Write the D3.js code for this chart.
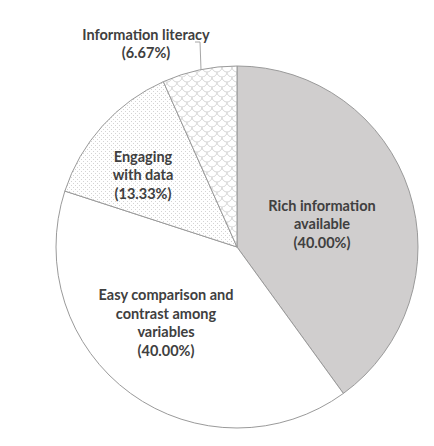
<!DOCTYPE html>
<html>
<head>
<meta charset="utf-8">
<script src="https://cdn.jsdelivr.net/npm/d3@7"></script>
<style>
  body { margin: 0; background: #fff; }
  text { font-family: Lato, "Open Sans", sans-serif; font-weight: bold; fill: #404040; }
</style>
</head>
<body>
<div id="chart"></div>
<script>
// valori della torta (in senso orario dalle ore 12)
const categories = ["Rich information available", "Easy comparison and contrast among variables", "Engaging with data", "Information literacy"];
const values = [40.00, 40.00, 13.33, 6.67];
const labelLines = [
  ["Rich information", "available", "(40.00%)"],
  ["Easy comparison and", "contrast among", "variables", "(40.00%)"],
  ["Engaging", "with data", "(13.33%)"],
  ["Information literacy", "(6.67%)"]
];

const width = 434, height = 446;
const cx = 237, cy = 247, radius = 181;

const svg = d3.select("#chart").append("svg")
  .attr("width", width).attr("height", height);

// pattern per le fette
const defs = svg.append("defs");

const dots = defs.append("pattern")
  .attr("id", "dots").attr("patternUnits", "userSpaceOnUse")
  .attr("width", 4).attr("height", 4);
dots.append("rect").attr("width", 4).attr("height", 4).attr("fill", "#fff");
dots.append("rect").attr("x", 0).attr("y", 0).attr("width", 1).attr("height", 1).attr("fill", "#d4d4d4");
dots.append("rect").attr("x", 2).attr("y", 2).attr("width", 1).attr("height", 1).attr("fill", "#d4d4d4");

const scales = defs.append("pattern")
  .attr("id", "scales").attr("patternUnits", "userSpaceOnUse")
  .attr("width", 10).attr("height", 10);
scales.append("rect").attr("width", 10).attr("height", 10).attr("fill", "#fff");
scales.append("path")
  .attr("d", "M0,5 A5,5 0 0 0 10,5 M-5,10 A5,5 0 0 0 5,10 M5,10 A5,5 0 0 0 15,10 M-5,0 A5,5 0 0 0 5,0 M5,0 A5,5 0 0 0 15,0")
  .attr("fill", "none").attr("stroke", "#d0d0d0").attr("stroke-width", 0.9);

const fills = ["#d0cece", "#ffffff", "url(#dots)", "url(#scales)"];

const pie = d3.pie().sort(null).value(d => d)(values);
const arc = d3.arc().innerRadius(0).outerRadius(radius);

const g = svg.append("g").attr("transform", `translate(${cx},${cy})`);

g.selectAll("path.slice")
  .data(pie).enter().append("path")
  .attr("class", "slice")
  .attr("d", arc)
  .attr("fill", (d, i) => fills[i])
  .attr("stroke", "#9a9a9a")
  .attr("stroke-width", 1);

// posizione delle etichette (centro del blocco di testo)
const labelPos = [[322, 224], [166, 323], [143, 175], [146, 44]];
const lineH = 18.5;

labelLines.forEach((lines, i) => {
  const [lx, ly] = labelPos[i];
  const t = svg.append("text")
    .attr("text-anchor", "middle")
    .style("font-size", "14.5px");
  lines.forEach((s, j) => {
    t.append("tspan")
      .attr("x", lx)
      .attr("y", ly + (j - (lines.length - 1) / 2) * lineH)
      .attr("dy", "0.35em")
      .text(s);
  });
});

// linea guida per "Information literacy"
const lx = 201;
const edgeY = cy - Math.sqrt(radius * radius - (lx - cx) * (lx - cx));
svg.append("polyline")
  .attr("points", [[195, 42], [200, 42], [lx, edgeY]].map(p => p.join(",")).join(" "))
  .attr("fill", "none").attr("stroke", "#a6a6a6").attr("stroke-width", 1);
</script>
</body>
</html>
